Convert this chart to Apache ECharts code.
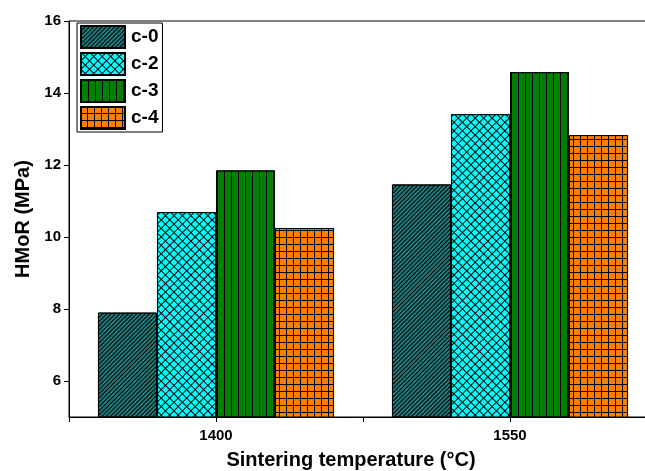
<!DOCTYPE html>
<html>
<head>
<meta charset="utf-8">
<script src="https://cdn.jsdelivr.net/npm/echarts@6/dist/echarts.min.js"></script>
<style>html,body{margin:0;padding:0;background:#fff}#c{width:645px;height:471px}</style>
</head>
<body>
<div id="c"></div>
<script>
const categories = ['1400', '1550'];
const seriesNames = ['c-0', 'c-2', 'c-3', 'c-4'];
const c0 = [7.90, 11.46];
const c2 = [10.69, 13.41];
const c3 = [11.85, 14.58];
const c4 = [10.25, 12.83];
const yTicks = [6, 8, 10, 12, 14, 16];

const values = [c0, c2, c3, c4];
const fills = ['#1e7b7b', '#00ffff', '#008000', '#ff8000'];
const decals = [
  { symbol: 'rect', symbolSize: 1, color: '#000', dashArrayX: [1, 0], dashArrayY: [1, 2], rotation: -Math.PI / 4 },
  { symbol: 'rect', symbolSize: 1, color: '#00ffff', backgroundColor: '#000', dashArrayX: [5, 1], dashArrayY: [5, 1], rotation: Math.PI / 4 },
  { symbol: 'rect', symbolSize: 1, color: '#000', dashArrayX: [1, 6], dashArrayY: [1, 0], rotation: 0 },
  { symbol: 'rect', symbolSize: 1, color: '#ff8000', backgroundColor: '#000', dashArrayX: [6, 1], dashArrayY: [6, 1], rotation: 0 }
];
const font = 'Liberation Sans, Arial, sans-serif';

const chart = echarts.init(document.getElementById('c'), null, { renderer: 'canvas' });
chart.setOption({
  animation: false,
  aria: { enabled: true, decal: { show: true } },
  grid: { left: 69, top: 21, width: 588, bottom: 54, outerBoundsMode: 'none', containLabel: false, show: true, borderColor: '#000', borderWidth: 1, backgroundColor: 'transparent' },
  legend: {
    left: 77, top: 23, orient: 'vertical',
    data: seriesNames,
    icon: 'rect',
    itemWidth: 44, itemHeight: 22, itemGap: 3,
    padding: [2, 4, 2, 3],
    borderColor: '#000', borderWidth: 1, backgroundColor: '#fff',
    textStyle: { fontFamily: font, fontWeight: 'bold', fontSize: 19, color: '#000', padding: [0, 0, 0, 1] }
  },
  xAxis: [{
    type: 'category', data: categories,
    axisLine: { lineStyle: { color: '#000', width: 1 } },
    axisTick: { show: true, length: 5, lineStyle: { color: '#000' } },
    axisLabel: { fontFamily: font, fontWeight: 'bold', fontSize: 15, color: '#000', margin: 11 },
    name: 'Sintering temperature (°C)', nameLocation: 'middle', nameGap: 33,
    nameTextStyle: { fontFamily: font, fontWeight: 'bold', fontSize: 20, color: '#000', padding: [0, 24, 0, 0] }
  }, {
    type: 'category', data: categories, position: 'bottom',
    axisLine: { show: false },
    axisTick: { show: true, alignWithLabel: true, length: 5, lineStyle: { color: '#000' } },
    axisLabel: { show: false }
  }],
  yAxis: {
    type: 'value', min: 5, max: 16,
    axisLine: { show: true, lineStyle: { color: '#000', width: 1 } },
    axisTick: { show: true, length: 5, customValues: yTicks, lineStyle: { color: '#000' } },
    axisLabel: { customValues: yTicks, fontFamily: font, fontWeight: 'bold', fontSize: 15, color: '#000', margin: 8 },
    splitLine: { show: false },
    name: 'HMoR (MPa)', nameLocation: 'middle', nameGap: 23,
    nameTextStyle: { fontFamily: font, fontWeight: 'bold', fontSize: 20, color: '#000' }
  },
  series: seriesNames.map((n, i) => ({
    name: n, type: 'bar', xAxisIndex: 0, data: values[i],
    barGap: '0%', barCategoryGap: '19.7%',
    itemStyle: { color: fills[i], borderColor: '#000', borderWidth: 1, decal: decals[i] }
  }))
});
</script>
</body>
</html>
